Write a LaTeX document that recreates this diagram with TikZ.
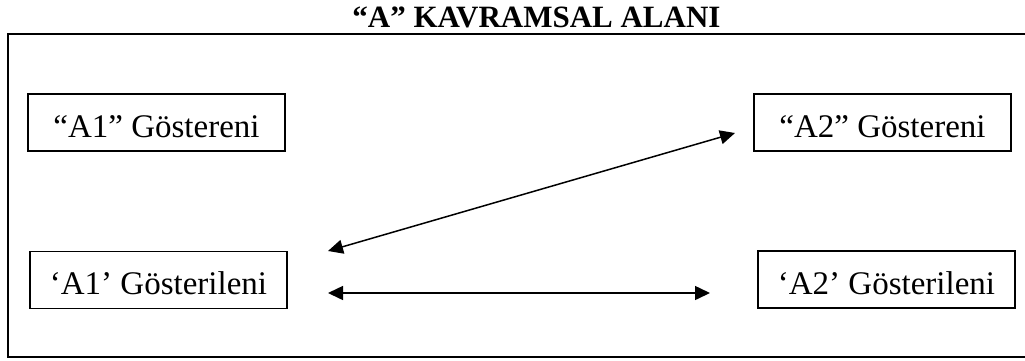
\documentclass[tikz,border=0pt]{standalone}
\usepackage{fontspec}
\setmainfont{Liberation Serif}
\usetikzlibrary{arrows.meta}
\tikzset{
  box/.style={draw, line width=1.4pt, minimum width=257pt, minimum height=57pt, inner sep=0pt,
    font=\fontsize{33}{38}\selectfont, text height=29pt, text depth=0pt},
  link/.style={line width=1.5pt, {Triangle[length=15pt,width=14pt]}-{Triangle[length=15pt,width=14pt]}},
  frame/.style={line width=1.8pt}
}
\begin{document}
\begin{tikzpicture}[x=1pt,y=-1pt]
\useasboundingbox (0,0) rectangle (1025,360);
\begin{scope}
\clip (0,0) rectangle (1025,360);
\draw[frame] (8,34) rectangle (1060,357);
\end{scope}
\node[anchor=base, font=\fontsize{31}{36}\selectfont\bfseries] (title) at (536.5,27) {“A” KAVRAMSAL ALANI};
\node[box] (a1g) at (156.5,122.5) {“A1” Göstereni};
\node[box] (a2g) at (882.5,122.5) {“A2” Göstereni};
\node[box] (a1s) at (158.5,280) {‘A1’ Gösterileni};
\node[box] (a2s) at (886.5,279.5) {‘A2’ Gösterileni};
\coordinate (d1) at (328,251);
\coordinate (d2) at (735,133);
\coordinate (h1) at (328,293);
\coordinate (h2) at (710,293);
\draw[link] (d1) -- (d2);
\draw[link] (h1) -- (h2);
\end{tikzpicture}
\end{document}
